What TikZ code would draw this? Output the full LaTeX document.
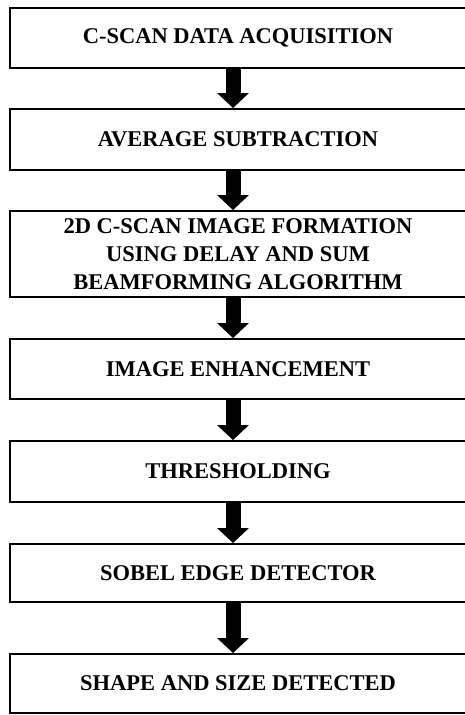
\documentclass[tikz,border=0pt]{standalone}
\usepackage{fontspec}
\setmainfont{Liberation Serif}
\usetikzlibrary{arrows.meta}
\tikzset{
  box/.style={draw, line width=2pt, minimum width=456pt, inner sep=0pt,
    align=center, font=\fontsize{22.5}{28.3}\selectfont\bfseries},
  flow/.style={line width=15pt,
    -{Triangle[width=32pt,length=15pt,line width=0pt]}}
}
\begin{document}
\begin{tikzpicture}
\useasboundingbox (0,0) rectangle (465pt,-715pt);
\clip (0,0) rectangle (465pt,-715pt);
\coordinate (ax) at (233pt,0);
\node[box, minimum height=60pt] (b1) at (238pt,-38pt) {C-SCAN DATA ACQUISITION};
\node[box, minimum height=61pt] (b2) at (238pt,-139.5pt) {AVERAGE SUBTRACTION};
\node[box, minimum height=86pt] (b3) at (238pt,-254pt) {2D C-SCAN IMAGE FORMATION\\USING DELAY AND SUM\\BEAMFORMING ALGORITHM};
\node[box, minimum height=60pt] (b4) at (238pt,-369pt) {IMAGE ENHANCEMENT};
\node[box, minimum height=61pt] (b5) at (238pt,-471.5pt) {THRESHOLDING};
\node[box, minimum height=58pt] (b6) at (238pt,-573pt) {SOBEL EDGE DETECTOR};
\node[box, minimum height=59pt] (b7) at (238pt,-683.5pt) {SHAPE AND SIZE DETECTED};
\draw[flow] (b1.south -| ax) -- (b2.north -| ax);
\draw[flow] (b2.south -| ax) -- (b3.north -| ax);
\draw[flow] (b3.south -| ax) -- (b4.north -| ax);
\draw[flow] (b4.south -| ax) -- (b5.north -| ax);
\draw[flow] (b5.south -| ax) -- (b6.north -| ax);
\draw[flow] (b6.south -| ax) -- (b7.north -| ax);
\end{tikzpicture}
\end{document}
